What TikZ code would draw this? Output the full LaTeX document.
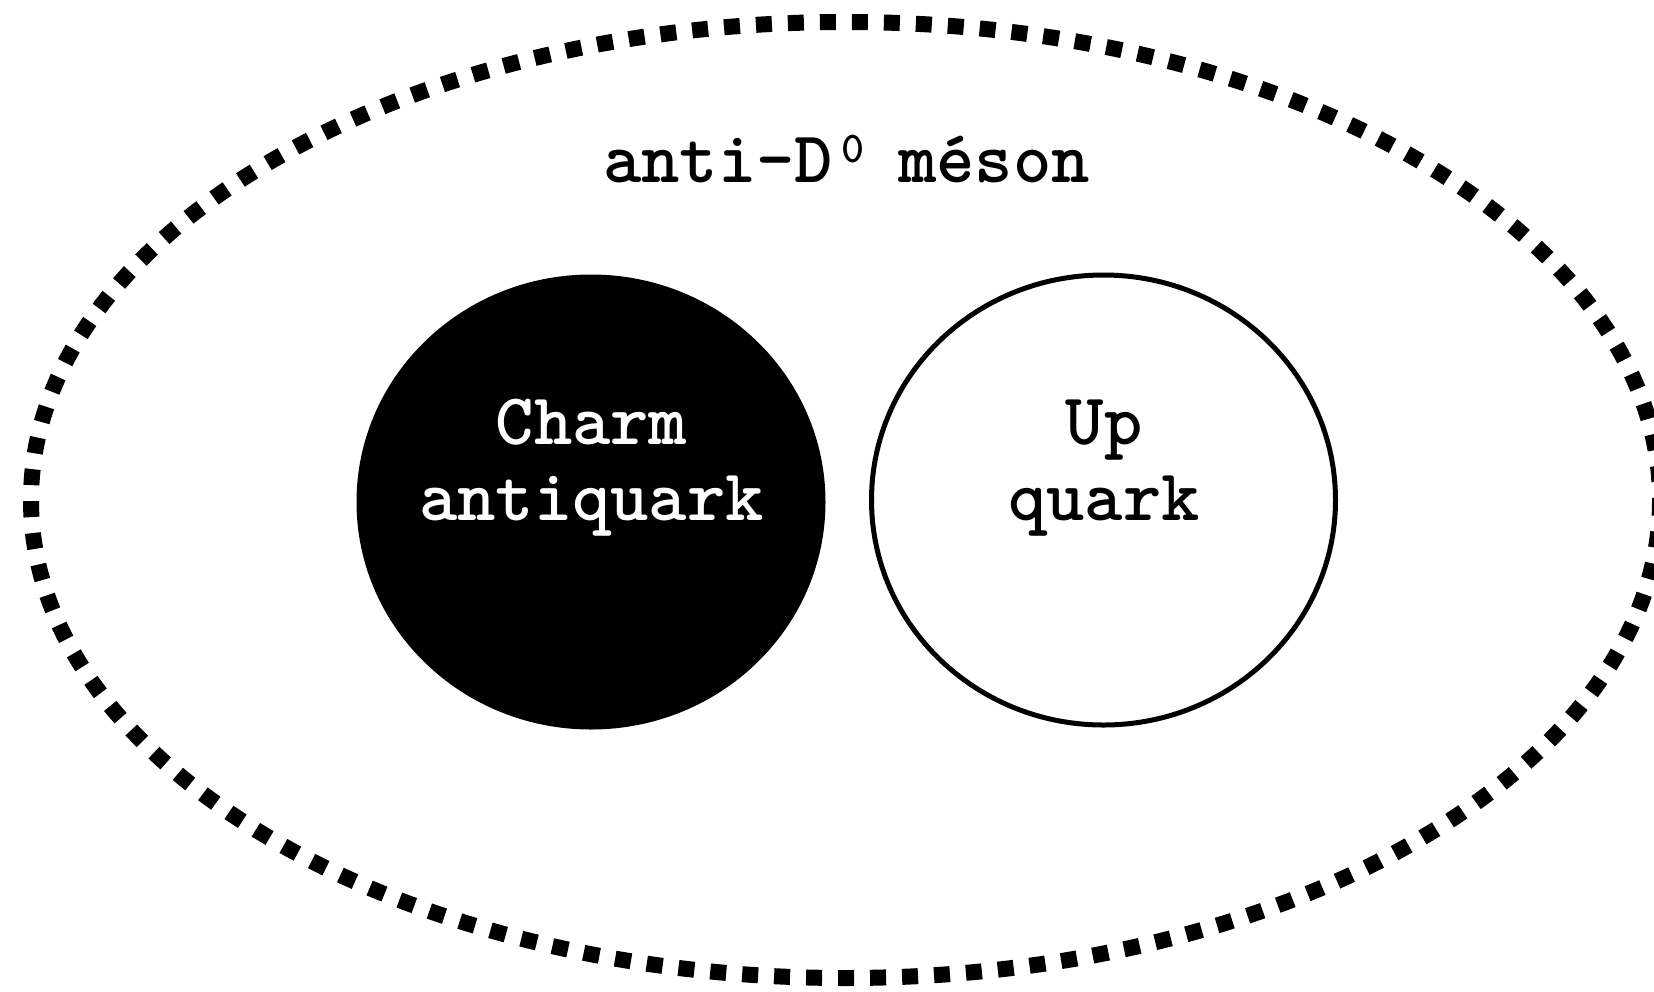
\documentclass[tikz,border=0pt]{standalone}
\begin{document}
\begin{tikzpicture}[x=1pt,y=-1pt,
  lbl/.style={inner sep=0pt,font=\fontsize{73}{76}\selectfont\ttfamily\bfseries,align=center},
  outer/.style={line width=16pt,dash pattern=on 16pt off 16pt},
  quarkfill/.style={fill=black,draw=black,line width=5pt},
  quarkopen/.style={fill=white,draw=black,line width=5pt}]
\useasboundingbox (0,0) rectangle (1654,991);
\clip (0,0) rectangle (1654,991);
\draw[outer] (845.5,500) ellipse [x radius=814.5, y radius=478];
\draw[quarkfill] (591,502) ellipse [x radius=232, y radius=225];
\draw[quarkopen] (1103.5,500) ellipse [x radius=232, y radius=225];
\node[lbl,anchor=base west] (title) at (603,182) {anti-D\hspace{8pt}\raisebox{20pt}{\fontsize{44}{44}\selectfont 0}\hspace{34pt}méson};
\node[lbl,text=white] (charm) at (591.5,468) {Charm\\antiquark};
\node[lbl] (up) at (1104,468) {Up\\quark};
\end{tikzpicture}
\end{document}
